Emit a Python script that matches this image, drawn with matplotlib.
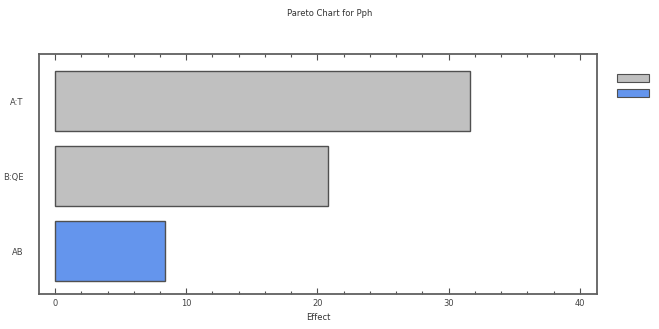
import numpy as np
import matplotlib.pyplot as plt
from matplotlib.patches import Rectangle
from matplotlib.ticker import MultipleLocator

# standardized effects, largest first
terms = ['A:T', 'B:QE', 'AB']
effects = [31.6, 20.8, 8.4]
signs = ['+', '+', '-']

col_pos = '#c0c0c0'
col_neg = '#6495ed'
edge = '#505050'

fig = plt.figure(figsize=(6.59, 3.29), dpi=100)
ax = fig.add_axes([39/659, 1 - 294/329, (597-39)/659, (294-54)/329])

ypos = np.arange(len(terms))[::-1]
colors = [col_pos if s == '+' else col_neg for s in signs]
ax.barh(ypos, effects, height=0.8, color=colors, edgecolor=edge, linewidth=1.0)

ax.set_xlim(-1.22, 41.3)
ax.set_ylim(-0.573, 2.627)
ax.set_yticks(ypos)
ax.set_yticklabels(terms)
ax.xaxis.set_major_locator(MultipleLocator(10))
ax.xaxis.set_minor_locator(MultipleLocator(2))
ax.tick_params(axis='x', which='both', direction='in', top=True, colors=edge,
               labelcolor='#444444', labelsize=6, width=0.8)
ax.tick_params(axis='x', which='major', length=4)
ax.tick_params(axis='x', which='minor', length=2)
ax.tick_params(axis='y', length=0, labelsize=6, labelcolor='#444444', pad=11)
for sp in ax.spines.values():
    sp.set_color('#606060')
    sp.set_linewidth(1.3)

ax.set_xlabel('Effect', fontsize=6, color='#333333', labelpad=4)
fig.text(0.5, 1 - 13/329, 'Pareto Chart for Pph', ha='center', va='center',
         fontsize=6, color='#333333')

# sign key on the right
for i, c in enumerate([col_pos, col_neg]):
    y0 = 1 - (82 + 15*i)/329
    fig.patches.append(Rectangle((617/659, y0), 32/659, 8/329, transform=fig.transFigure,
                                 facecolor=c, edgecolor=edge, linewidth=0.8))

fig.savefig('out.png', dpi=100)
